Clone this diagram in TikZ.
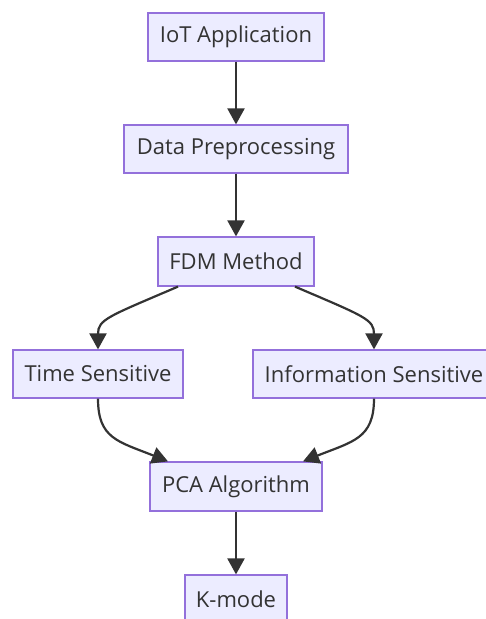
\documentclass[tikz,border=0pt]{standalone}
\usepackage{fontspec}
\setmainfont{Open Sans}
\usetikzlibrary{arrows.meta,calc}
\definecolor{boxfill}{HTML}{ECECFF}
\definecolor{boxline}{HTML}{9370DB}
\definecolor{edge}{HTML}{333333}
\definecolor{ink}{HTML}{333333}
\begin{document}
\begin{tikzpicture}[x=1pt,y=-1pt,
  flowbox/.style={draw=boxline,fill=boxfill,line width=1.2pt,rectangle,
    minimum height=48pt,inner sep=0pt,text=ink,font=\fontsize{22}{24}\selectfont},
  flowedge/.style={draw=edge,line width=2.2pt,-{Triangle[length=16pt,width=17pt]}}]
\useasboundingbox (0,0) rectangle (486,619);
\clip (0,0) rectangle (486,619);
\node[flowbox,minimum width=176pt] (iot) at (236,37) {IoT Application};
\node[flowbox,minimum width=224pt] (prep) at (236,149) {Data Preprocessing};
\node[flowbox,minimum width=156pt,minimum height=49pt] (fdm) at (236,261.5) {FDM Method};
\node[flowbox,minimum width=170pt] (time) at (98,374) {Time Sensitive};
\node[flowbox,minimum width=242pt] (info) at (374,374) {Information Sensitive};
\node[flowbox,minimum width=172pt,minimum height=49pt] (pca) at (236,486.5) {PCA Algorithm};
\node[flowbox,minimum width=102pt] (kmode) at (236,599) {K-mode};

\draw[flowedge] (iot.south) -- (prep.north);
\draw[flowedge] (prep.south) -- (fdm.north);
\draw[flowedge] ($(fdm.south)+(-58,0)$) .. controls +(-70,30) and +(0,-30) .. (time.north);
\draw[flowedge] ($(fdm.south)+(59,0)$) .. controls +(70,30) and +(0,-30) .. (info.north);
\draw[flowedge] (time.south) .. controls +(0,40) and +(-50,-20) .. ($(pca.north)+(-68,0)$);
\draw[flowedge] (info.south) .. controls +(0,40) and +(50,-20) .. ($(pca.north)+(67,0)$);
\draw[flowedge] (pca.south) -- (kmode.north);
\end{tikzpicture}
\end{document}
